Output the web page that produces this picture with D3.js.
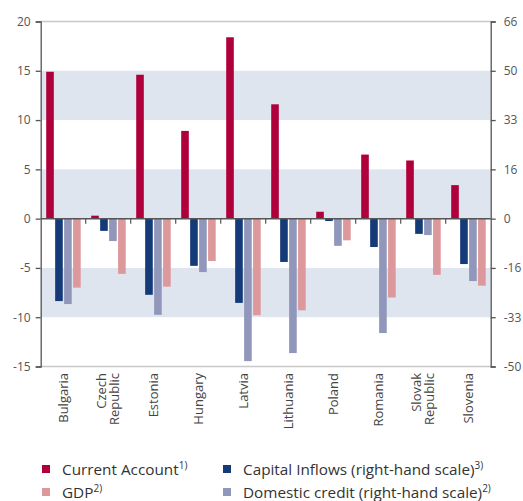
<!DOCTYPE html>
<meta charset="utf-8">
<style type="text/css">
  body {
    margin: 0;
    font-family: "Open Sans", sans-serif;
    background: #fff;
  }
  .axis text {
    font: 12px "Open Sans", sans-serif;
    fill: #555;
  }
  .legend text {
    font: 15.3px "Open Sans", sans-serif;
    fill: #333;
  }
</style>
<body>
</body>
<script src="https://d3js.org/d3.v7.min.js"></script>
<script>
  // data
  var countries = [["Bulgaria"], ["Czech", "Republic"], ["Estonia"], ["Hungary"], ["Latvia"],
    ["Lithuania"], ["Poland"], ["Romania"], ["Slovak", "Republic"], ["Slovenia"]];
  var currentAccount = [14.9, 0.3, 14.6, 8.9, 18.4, 11.6, 0.7, 6.5, 5.9, 3.4];       // left scale
  var capitalInflows = [-27.6, -4.1, -25.5, -15.8, -28.2, -14.5, -0.8, -9.5, -5.1, -15.2]; // right scale
  var domesticCredit = [-28.6, -7.5, -32.2, -17.9, -47.7, -45.0, -9.1, -38.3, -5.5, -20.9]; // right scale
  var gdp = [-7.0, -5.6, -6.9, -4.3, -9.8, -9.3, -2.2, -8.0, -5.7, -6.8];             // left scale

  var leftTicks = [20, 15, 10, 5, 0, -5, -10, -15];
  var rightTicks = [66, 49.5, 33, 16.5, 0, -16.5, -33, -49.5];
  var rightTickLabels = ["66", "50", "33", "16", "0", "-16", "-33", "-50"];
  var bands = [[10, 15], [0, 5], [-10, -5]];

  var series = [
    { key: "ca", name: "Current Account", sup: "1)", values: currentAccount, right: false, color: "#b0003c" },
    { key: "ci", name: "Capital Inflows (right-hand scale)", sup: "3)", values: capitalInflows, right: true, color: "#143a78" },
    { key: "dc", name: "Domestic credit (right-hand scale)", sup: "2)", values: domesticCredit, right: true, color: "#9197bb" },
    { key: "gdp", name: "GDP", sup: "2)", values: gdp, right: false, color: "#dc989b" }
  ];
  var legendOrder = ["ca", "gdp", "ci", "dc"];

  var width = 523, height = 501;
  var plotLeft = 40.7, plotRight = 490.7, plotTop = 21.5, plotBottom = 366.5;

  var svg = d3.select("body").append("svg")
    .attr("width", width)
    .attr("height", height);

  var y = d3.scaleLinear().domain([-15, 20]).range([plotBottom, plotTop]);
  var yR = d3.scaleLinear().domain([-49.5, 66]).range([plotBottom, plotTop]);

  var x0 = d3.scaleBand().domain(d3.range(countries.length)).range([plotLeft, plotRight]).padding(0);
  var x1 = d3.scaleBand().domain(series.map(function(s) { return s.key; }))
    .range([5.5, 40]).paddingInner(0.15);

  // background bands
  svg.append("g").selectAll("rect")
    .data(bands)
    .enter().append("rect")
    .attr("x", plotLeft)
    .attr("width", plotRight - plotLeft)
    .attr("y", function(d) { return y(d[1]); })
    .attr("height", function(d) { return y(d[0]) - y(d[1]); })
    .style("fill", "#dfe5ef");

  // top and bottom frame lines
  svg.append("line").attr("x1", plotLeft).attr("x2", plotRight).attr("y1", y(20)).attr("y2", y(20))
    .style("stroke", "#c8c8c8").style("stroke-width", 1.5);
  svg.append("line").attr("x1", plotLeft).attr("x2", plotRight).attr("y1", y(-15)).attr("y2", y(-15))
    .style("stroke", "#c8c8c8").style("stroke-width", 1.5);

  // bars
  var groups = svg.append("g").selectAll("g")
    .data(countries)
    .enter().append("g")
    .attr("transform", function(d, i) { return "translate(" + x0(i) + ",0)"; });

  groups.selectAll("rect")
    .data(function(d, i) {
      return series.map(function(s) { return { s: s, v: s.values[i] }; });
    })
    .enter().append("rect")
    .attr("x", function(d) { return x1(d.s.key); })
    .attr("width", x1.bandwidth())
    .attr("y", function(d) {
      var sc = d.s.right ? yR : y;
      return Math.min(sc(d.v), sc(0));
    })
    .attr("height", function(d) {
      var sc = d.s.right ? yR : y;
      return Math.abs(sc(d.v) - sc(0));
    })
    .style("fill", function(d) { return d.s.color; });

  // zero line with category ticks
  svg.append("line").attr("x1", plotLeft).attr("x2", plotRight).attr("y1", y(0)).attr("y2", y(0))
    .style("stroke", "#555").style("stroke-width", 1.5);
  svg.append("g").selectAll("line")
    .data(d3.range(1, countries.length))
    .enter().append("line")
    .attr("x1", function(i) { return x0(i); })
    .attr("x2", function(i) { return x0(i); })
    .attr("y1", y(0))
    .attr("y2", y(0) + 5)
    .style("stroke", "#555")
    .style("stroke-width", 1.2);

  // axes
  svg.append("g")
    .attr("class", "axis")
    .attr("transform", "translate(" + plotLeft + ",0)")
    .call(d3.axisLeft(y).tickValues(leftTicks).tickSize(5).tickPadding(5)
      .tickFormat(function(d) { return String(d); }));

  svg.append("g")
    .attr("class", "axis")
    .attr("transform", "translate(" + plotRight + ",0)")
    .call(d3.axisRight(yR).tickValues(rightTicks).tickSize(5).tickPadding(8)
      .tickFormat(function(d, i) { return rightTickLabels[i]; }));

  svg.selectAll(".axis path").style("stroke", "#555").style("stroke-width", 1.3);
  svg.selectAll(".axis line").style("stroke", "#555").style("stroke-width", 1.3);

  // country labels
  countries.forEach(function(lines, i) {
    var cx = x0(i) + x0.bandwidth() / 2;
    lines.forEach(function(t, j) {
      var lx = cx + (j - (lines.length - 1) / 2) * 13;
      svg.append("text")
        .attr("transform", "translate(" + lx + ",373) rotate(-90)")
        .attr("dy", "0.35em")
        .style("text-anchor", "end")
        .style("font-size", "13px")
        .style("fill", "#444")
        .text(t);
    });
  });

  // legend
  var legendPos = [[42, 475], [42, 498], [223, 475], [223, 498]];
  var legend = svg.append("g").attr("class", "legend");
  legendOrder.forEach(function(k, i) {
    var s = series.filter(function(d) { return d.key === k; })[0];
    var p = legendPos[i];
    legend.append("rect")
      .attr("x", p[0]).attr("y", p[1] - 10)
      .attr("width", 8).attr("height", 8)
      .style("fill", s.color);
    var t = legend.append("text")
      .attr("x", p[0] + 20).attr("y", p[1]);
    t.append("tspan").text(s.name);
    t.append("tspan")
      .attr("dy", -6)
      .style("font-size", "10px")
      .text(s.sup);
  });
</script>
